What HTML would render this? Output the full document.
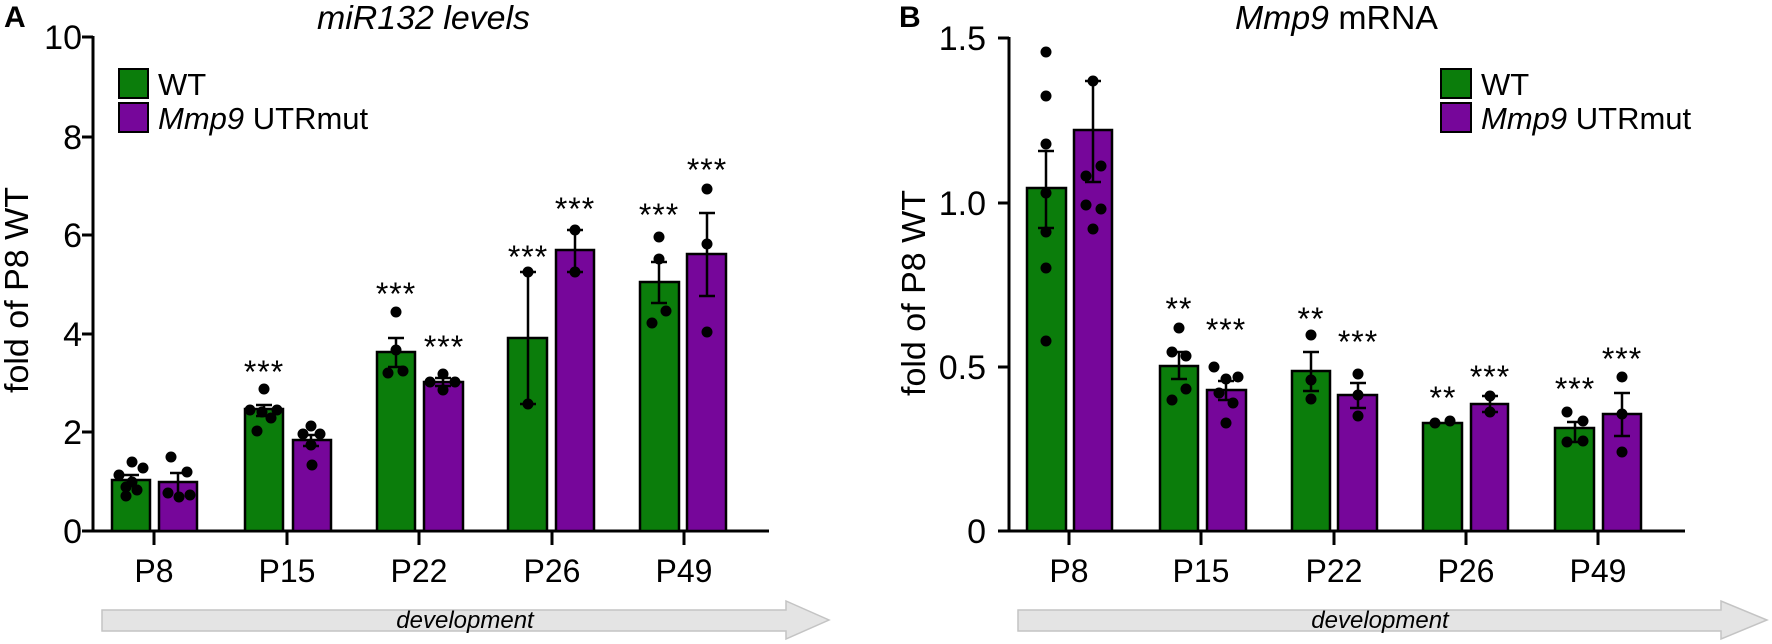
<!DOCTYPE html>
<html><head><meta charset="utf-8"><style>
html,body{margin:0;padding:0;background:#fff;}
svg{display:block;font-family:"Liberation Sans",Arial,sans-serif;}
</style></head><body>
<svg width="1772" height="644" viewBox="0 0 1772 644" xmlns="http://www.w3.org/2000/svg">
<!-- Panel A -->
<text x="4" y="27" font-size="30" font-weight="bold">A</text>
<text x="317" y="29" font-size="33" font-style="italic" textLength="213" lengthAdjust="spacingAndGlyphs">miR132 levels</text>
<text transform="translate(28,290) rotate(-90)" font-size="33" text-anchor="middle" textLength="206" lengthAdjust="spacingAndGlyphs">fold of P8 WT</text>
<g font-size="34" text-anchor="end">
<text x="82" y="49">10</text><text x="82" y="149">8</text><text x="82" y="247">6</text><text x="82" y="346">4</text><text x="82" y="444">2</text><text x="82" y="543">0</text>
</g>
<g stroke="#000" stroke-width="3">
<line x1="93" y1="36" x2="93" y2="532"/>
<line x1="82" y1="37" x2="93" y2="37"/><line x1="82" y1="137" x2="93" y2="137"/><line x1="82" y1="235" x2="93" y2="235"/><line x1="82" y1="334" x2="93" y2="334"/><line x1="82" y1="432" x2="93" y2="432"/><line x1="82" y1="531" x2="93" y2="531"/>
<line x1="92" y1="531" x2="769" y2="531"/>
<line x1="154" y1="531" x2="154" y2="545"/><line x1="287" y1="531" x2="287" y2="545"/><line x1="419" y1="531" x2="419" y2="545"/><line x1="552" y1="531" x2="552" y2="545"/><line x1="684" y1="531" x2="684" y2="545"/>
</g>
<g stroke="#000" stroke-width="2.5">
<rect x="112" y="480" width="38" height="51" fill="#0b7d0b"/>
<rect x="159" y="482" width="38" height="49" fill="#76069a"/>
<rect x="245" y="409" width="38" height="122" fill="#0b7d0b"/>
<rect x="293" y="440" width="38" height="91" fill="#76069a"/>
<rect x="377" y="352" width="38" height="179" fill="#0b7d0b"/>
<rect x="424" y="382" width="39" height="149" fill="#76069a"/>
<rect x="508" y="338" width="39" height="193" fill="#0b7d0b"/>
<rect x="556" y="250" width="38" height="281" fill="#76069a"/>
<rect x="640" y="282" width="39" height="249" fill="#0b7d0b"/>
<rect x="687" y="254" width="39" height="277" fill="#76069a"/>
</g>
<!-- error bars A -->
<g stroke="#000" stroke-width="2.5">
<line x1="131" y1="475" x2="131" y2="486"/><line x1="123" y1="475" x2="139" y2="475"/><line x1="123" y1="486" x2="139" y2="486"/>
<line x1="178" y1="473" x2="178" y2="492"/><line x1="170" y1="473" x2="186" y2="473"/>
<line x1="264" y1="405" x2="264" y2="416"/><line x1="256" y1="405" x2="272" y2="405"/><line x1="256" y1="416" x2="272" y2="416"/>
<line x1="311" y1="435" x2="311" y2="446"/><line x1="303" y1="435" x2="319" y2="435"/><line x1="303" y1="446" x2="319" y2="446"/>
<line x1="396" y1="338" x2="396" y2="367"/><line x1="388" y1="338" x2="404" y2="338"/><line x1="388" y1="367" x2="404" y2="367"/>
<line x1="443" y1="378" x2="443" y2="386"/><line x1="435" y1="378" x2="451" y2="378"/><line x1="435" y1="386" x2="451" y2="386"/>
<line x1="528" y1="272" x2="528" y2="404"/><line x1="520" y1="272" x2="536" y2="272"/><line x1="520" y1="404" x2="536" y2="404"/>
<line x1="575" y1="230" x2="575" y2="272"/><line x1="567" y1="230" x2="583" y2="230"/><line x1="567" y1="272" x2="583" y2="272"/>
<line x1="659" y1="262" x2="659" y2="303"/><line x1="651" y1="262" x2="667" y2="262"/><line x1="651" y1="303" x2="667" y2="303"/>
<line x1="707" y1="213" x2="707" y2="296"/><line x1="699" y1="213" x2="715" y2="213"/><line x1="699" y1="296" x2="715" y2="296"/>
</g>
<g fill="#000">
<circle cx="132" cy="462" r="5.5"/><circle cx="143" cy="468" r="5.5"/><circle cx="119" cy="475" r="5.5"/><circle cx="132" cy="482" r="5.5"/><circle cx="126" cy="487" r="5.5"/><circle cx="137" cy="490" r="5.5"/><circle cx="126" cy="496" r="5.5"/>
<circle cx="171" cy="457" r="5.5"/><circle cx="187" cy="472" r="5.5"/><circle cx="168" cy="493" r="5.5"/><circle cx="179" cy="497" r="5.5"/><circle cx="190" cy="495" r="5.5"/>
<circle cx="264" cy="389" r="5.5"/><circle cx="250" cy="410" r="5.5"/><circle cx="262" cy="412" r="5.5"/><circle cx="277" cy="410" r="5.5"/><circle cx="271" cy="418" r="5.5"/><circle cx="257" cy="431" r="5.5"/>
<circle cx="311" cy="426" r="5.5"/><circle cx="303" cy="434" r="5.5"/><circle cx="320" cy="434" r="5.5"/><circle cx="311" cy="445" r="5.5"/><circle cx="312" cy="465" r="5.5"/>
<circle cx="396" cy="312" r="5.5"/><circle cx="396" cy="350" r="5.5"/><circle cx="388" cy="373" r="5.5"/><circle cx="403" cy="371" r="5.5"/>
<circle cx="443" cy="374" r="5.5"/><circle cx="430" cy="382" r="5.5"/><circle cx="443" cy="390" r="5.5"/><circle cx="455" cy="382" r="5.5"/>
<circle cx="528" cy="272" r="5.5"/><circle cx="528" cy="404" r="5.5"/>
<circle cx="575" cy="230" r="5.5"/><circle cx="575" cy="272" r="5.5"/>
<circle cx="659" cy="237" r="5.5"/><circle cx="659" cy="259" r="5.5"/><circle cx="652" cy="323" r="5.5"/><circle cx="666" cy="311" r="5.5"/>
<circle cx="707" cy="189" r="5.5"/><circle cx="707" cy="244" r="5.5"/><circle cx="707" cy="332" r="5.5"/>
</g>
<g font-size="32" text-anchor="middle" letter-spacing="1">
<text x="264" y="383">***</text><text x="396" y="305">***</text><text x="444" y="358">***</text>
<text x="528" y="268">***</text><text x="575" y="220">***</text><text x="659" y="226">***</text><text x="707" y="181">***</text>
</g>
<!-- legend A -->
<rect x="119" y="69" width="29" height="29" fill="#0b7d0b" stroke="#000" stroke-width="2"/>
<rect x="119" y="103" width="29" height="29" fill="#76069a" stroke="#000" stroke-width="2"/>
<text x="158" y="95" font-size="31">WT</text>
<text x="158" y="129" font-size="31"><tspan font-style="italic">Mmp9</tspan> UTRmut</text>
<g font-size="32" text-anchor="middle">
<text x="154" y="582">P8</text><text x="287" y="582">P15</text><text x="419" y="582">P22</text><text x="552" y="582">P26</text><text x="684" y="582">P49</text>
</g>
<polygon points="102,610 786,610 786,601 829,620 786,639 786,631 102,631" fill="#e4e4e4" stroke="#c4c4c4" stroke-width="1.5"/>
<text x="465" y="628" font-size="24" font-style="italic" text-anchor="middle">development</text>

<!-- Panel B -->
<text x="899" y="27" font-size="30" font-weight="bold">B</text>
<text x="1235" y="29" font-size="33" textLength="203" lengthAdjust="spacingAndGlyphs"><tspan font-style="italic">Mmp9</tspan> mRNA</text>
<text transform="translate(925,293) rotate(-90)" font-size="33" text-anchor="middle" textLength="206" lengthAdjust="spacingAndGlyphs">fold of P8 WT</text>
<g font-size="34" text-anchor="end">
<text x="986" y="50">1.5</text><text x="986" y="215">1.0</text><text x="986" y="379">0.5</text><text x="986" y="543">0</text>
</g>
<g stroke="#000" stroke-width="3">
<line x1="1009" y1="37" x2="1009" y2="532"/>
<line x1="998" y1="38" x2="1009" y2="38"/><line x1="998" y1="203" x2="1009" y2="203"/><line x1="998" y1="367" x2="1009" y2="367"/><line x1="998" y1="531" x2="1009" y2="531"/>
<line x1="1008" y1="531" x2="1685" y2="531"/>
<line x1="1069" y1="531" x2="1069" y2="545"/><line x1="1201" y1="531" x2="1201" y2="545"/><line x1="1334" y1="531" x2="1334" y2="545"/><line x1="1466" y1="531" x2="1466" y2="545"/><line x1="1598" y1="531" x2="1598" y2="545"/>
</g>
<g stroke="#000" stroke-width="2.5">
<rect x="1027" y="188" width="39" height="343" fill="#0b7d0b"/>
<rect x="1074" y="130" width="38" height="401" fill="#76069a"/>
<rect x="1160" y="366" width="38" height="165" fill="#0b7d0b"/>
<rect x="1207" y="390" width="39" height="141" fill="#76069a"/>
<rect x="1292" y="371" width="38" height="160" fill="#0b7d0b"/>
<rect x="1338" y="395" width="39" height="136" fill="#76069a"/>
<rect x="1423" y="423" width="39" height="108" fill="#0b7d0b"/>
<rect x="1471" y="404" width="37" height="127" fill="#76069a"/>
<rect x="1555" y="428" width="39" height="103" fill="#0b7d0b"/>
<rect x="1603" y="414" width="38" height="117" fill="#76069a"/>
</g>
<g stroke="#000" stroke-width="2.5">
<line x1="1046" y1="151" x2="1046" y2="228"/><line x1="1038" y1="151" x2="1054" y2="151"/><line x1="1038" y1="228" x2="1054" y2="228"/>
<line x1="1093" y1="81" x2="1093" y2="182"/><line x1="1085" y1="81" x2="1101" y2="81"/><line x1="1085" y1="182" x2="1101" y2="182"/>
<line x1="1179" y1="352" x2="1179" y2="379"/><line x1="1171" y1="352" x2="1187" y2="352"/><line x1="1171" y1="379" x2="1187" y2="379"/>
<line x1="1226" y1="381" x2="1226" y2="400"/><line x1="1218" y1="381" x2="1234" y2="381"/><line x1="1218" y1="400" x2="1234" y2="400"/>
<line x1="1311" y1="352" x2="1311" y2="391"/><line x1="1303" y1="352" x2="1319" y2="352"/><line x1="1303" y1="391" x2="1319" y2="391"/>
<line x1="1358" y1="383" x2="1358" y2="408"/><line x1="1350" y1="383" x2="1366" y2="383"/><line x1="1350" y1="408" x2="1366" y2="408"/>
<line x1="1490" y1="396" x2="1490" y2="412"/><line x1="1482" y1="396" x2="1498" y2="396"/><line x1="1482" y1="412" x2="1498" y2="412"/>
<line x1="1575" y1="422" x2="1575" y2="442"/><line x1="1567" y1="422" x2="1583" y2="422"/><line x1="1567" y1="442" x2="1583" y2="442"/>
<line x1="1622" y1="393" x2="1622" y2="436"/><line x1="1614" y1="393" x2="1630" y2="393"/><line x1="1614" y1="436" x2="1630" y2="436"/>
</g>
<g fill="#000">
<circle cx="1046" cy="52" r="5.5"/><circle cx="1046" cy="96" r="5.5"/><circle cx="1046" cy="144" r="5.5"/><circle cx="1046" cy="193" r="5.5"/><circle cx="1046" cy="232" r="5.5"/><circle cx="1046" cy="268" r="5.5"/><circle cx="1046" cy="341" r="5.5"/>
<circle cx="1093" cy="81" r="5.5"/><circle cx="1101" cy="166" r="5.5"/><circle cx="1086" cy="176" r="5.5"/><circle cx="1086" cy="205" r="5.5"/><circle cx="1101" cy="209" r="5.5"/><circle cx="1093" cy="229" r="5.5"/>
<circle cx="1179" cy="328" r="5.5"/><circle cx="1172" cy="352" r="5.5"/><circle cx="1186" cy="356" r="5.5"/><circle cx="1186" cy="389" r="5.5"/><circle cx="1172" cy="400" r="5.5"/>
<circle cx="1214" cy="367" r="5.5"/><circle cx="1226" cy="379" r="5.5"/><circle cx="1238" cy="377" r="5.5"/><circle cx="1219" cy="393" r="5.5"/><circle cx="1233" cy="403" r="5.5"/><circle cx="1226" cy="423" r="5.5"/>
<circle cx="1311" cy="335" r="5.5"/><circle cx="1311" cy="380" r="5.5"/><circle cx="1311" cy="399" r="5.5"/>
<circle cx="1358" cy="374" r="5.5"/><circle cx="1358" cy="395" r="5.5"/><circle cx="1358" cy="416" r="5.5"/>
<circle cx="1435" cy="423" r="5.5"/><circle cx="1450" cy="421" r="5.5"/>
<circle cx="1490" cy="396" r="5.5"/><circle cx="1490" cy="412" r="5.5"/>
<circle cx="1567" cy="412" r="5.5"/><circle cx="1583" cy="421" r="5.5"/><circle cx="1567" cy="442" r="5.5"/><circle cx="1583" cy="441" r="5.5"/>
<circle cx="1622" cy="377" r="5.5"/><circle cx="1622" cy="414" r="5.5"/><circle cx="1622" cy="452" r="5.5"/>
</g>
<g font-size="32" text-anchor="middle" letter-spacing="1">
<text x="1179" y="320">**</text><text x="1226" y="341">***</text>
<text x="1311" y="330">**</text><text x="1358" y="353">***</text>
<text x="1443" y="409">**</text><text x="1490" y="388">***</text>
<text x="1575" y="400">***</text><text x="1622" y="370">***</text>
</g>
<rect x="1441" y="69" width="30" height="29" fill="#0b7d0b" stroke="#000" stroke-width="2"/>
<rect x="1441" y="103" width="30" height="29" fill="#76069a" stroke="#000" stroke-width="2"/>
<text x="1481" y="95" font-size="31">WT</text>
<text x="1481" y="129" font-size="31"><tspan font-style="italic">Mmp9</tspan> UTRmut</text>
<g font-size="32" text-anchor="middle">
<text x="1069" y="582">P8</text><text x="1201" y="582">P15</text><text x="1334" y="582">P22</text><text x="1466" y="582">P26</text><text x="1598" y="582">P49</text>
</g>
<polygon points="1018,610 1721,610 1721,601 1767,620 1721,639 1721,631 1018,631" fill="#e4e4e4" stroke="#c4c4c4" stroke-width="1.5"/>
<text x="1380" y="628" font-size="24" font-style="italic" text-anchor="middle">development</text>
</svg>
</body></html>
